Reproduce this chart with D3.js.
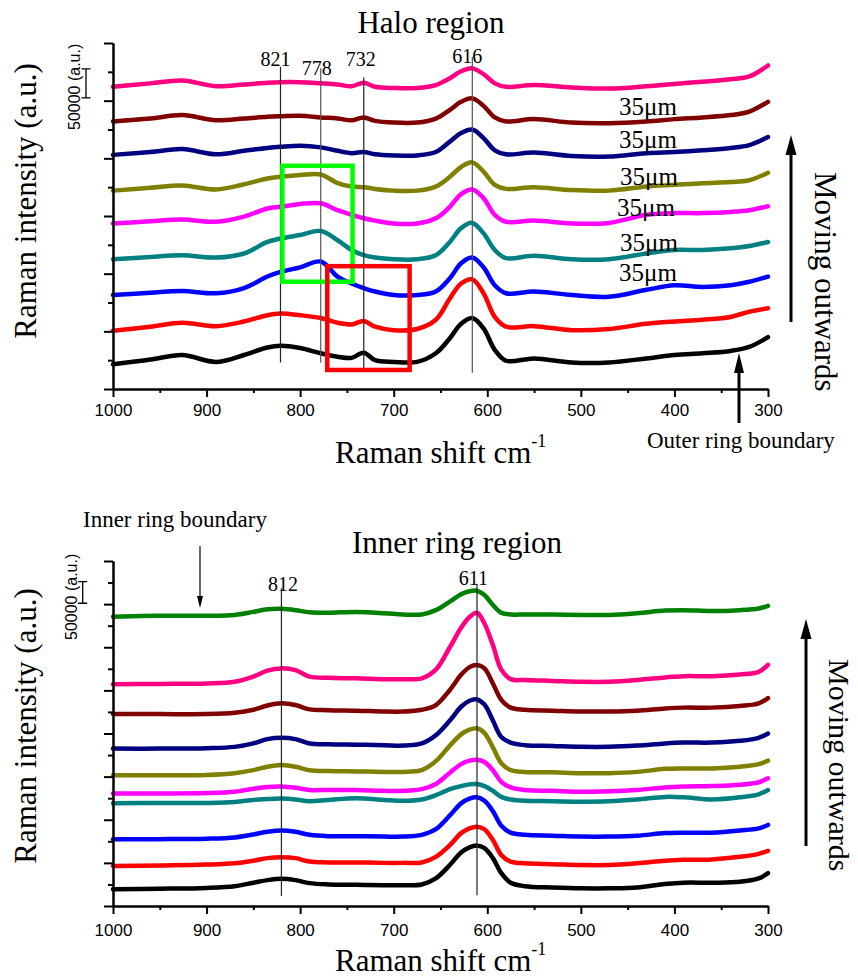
<!DOCTYPE html>
<html>
<head>
<meta charset="utf-8">
<script src="https://cdn.jsdelivr.net/npm/d3@7"></script>
<style>
  body { margin: 0; background: #fff; }
  svg { display: block; }
  .serif { font-family: "Liberation Serif", "Times New Roman", serif; fill: #000; }
  .axis text { font-family: "Liberation Sans", Arial, sans-serif; font-size: 17px; fill: #000; }
  .axis path, .axis line { stroke: #000; stroke-width: 2; }
</style>
</head>
<body>
<div id="chart"></div>
<script>
// ---- data (intensity in units of 1000 a.u., spectra already stacked) ----
var haloShift = [1000, 960, 926, 890, 860, 835, 821, 800, 778, 760, 745, 732, 720, 700, 675, 655, 640, 628, 616, 604, 592, 580, 550, 510, 470, 430, 400, 370, 340, 320, 300];
var haloBlack   = [43, 51, 59, 47, 59, 72, 75, 71, 62, 56, 54, 63, 50, 47, 47, 62, 88, 113, 123, 105, 68, 49, 53, 46, 46, 53, 59, 62, 66, 73, 90];
var haloRed     = [101, 108, 115, 109, 117, 128, 131, 128, 123, 115, 112, 118, 108, 102, 104, 120, 157, 183, 190, 166, 125, 108, 109, 102, 104, 113, 117, 120, 125, 134, 140];
var haloBlue    = [163, 167, 170, 166, 175, 195, 203, 211, 221, 195, 183, 175, 169, 163, 163, 169, 192, 218, 228, 211, 180, 166, 169, 163, 160, 172, 180, 177, 180, 186, 195];
var haloTeal    = [225, 229, 232, 228, 235, 255, 261, 267, 274, 258, 241, 232, 228, 225, 225, 232, 255, 279, 288, 270, 241, 227, 231, 225, 225, 235, 241, 241, 244, 248, 255];
var haloMagenta = [287, 291, 294, 290, 299, 313, 316, 321, 322, 310, 302, 296, 292, 287, 287, 296, 316, 338, 346, 331, 302, 290, 292, 287, 288, 302, 305, 305, 307, 310, 317];
var haloOlive   = [344, 349, 353, 346, 355, 365, 368, 371, 372, 357, 351, 350, 347, 344, 344, 351, 368, 385, 393, 377, 354, 347, 350, 345, 344, 351, 354, 357, 359, 362, 375];
var haloNavy    = [406, 411, 416, 407, 413, 418, 420, 422, 419, 413, 409, 411, 407, 405, 405, 411, 429, 444, 450, 435, 414, 407, 410, 404, 403, 409, 411, 414, 418, 423, 437];
var haloMaroon  = [464, 469, 475, 466, 469, 472, 473, 474, 471, 469, 466, 471, 465, 462, 462, 469, 484, 498, 504, 491, 471, 464, 468, 462, 461, 464, 468, 471, 475, 481, 498];
var haloPink    = [524, 530, 535, 525, 528, 531, 532, 532, 530, 528, 525, 531, 524, 522, 522, 527, 539, 551, 556, 546, 530, 524, 527, 523, 521, 525, 529, 533, 537, 542, 561];

var innerShift = [1000, 950, 900, 870, 850, 835, 820, 805, 790, 770, 740, 710, 690, 670, 655, 640, 628, 619, 611, 603, 594, 585, 575, 560, 530, 500, 470, 440, 410, 390, 360, 330, 310, 300];
var innerBlack   = [39, 40, 42, 46, 54, 60, 63, 60, 53, 50, 49, 48, 48, 50, 64, 95, 124, 136, 140, 134, 111, 76, 54, 46, 43, 41, 41, 43, 51, 54, 54, 56, 64, 76];
var innerRed     = [93, 94, 96, 99, 105, 111, 113, 111, 103, 101, 101, 100, 100, 101, 114, 141, 169, 180, 184, 178, 153, 118, 103, 99, 97, 95, 95, 99, 105, 107, 108, 114, 121, 128];
var innerBlue    = [155, 155, 156, 159, 166, 172, 175, 172, 165, 162, 162, 161, 161, 165, 178, 210, 238, 249, 252, 244, 220, 186, 170, 165, 163, 161, 161, 163, 169, 170, 170, 175, 180, 188];
var innerTeal    = [238, 239, 239, 241, 246, 248, 249, 247, 243, 246, 250, 246, 244, 247, 257, 271, 278, 282, 283, 278, 267, 253, 247, 244, 243, 242, 243, 247, 253, 252, 247, 252, 259, 269];
var innerMagenta = [261, 261, 262, 265, 272, 276, 277, 274, 269, 269, 269, 267, 267, 271, 283, 309, 329, 337, 339, 334, 315, 288, 275, 269, 267, 265, 266, 269, 275, 277, 278, 281, 287, 296];
var innerOlive   = [303, 303, 304, 308, 315, 323, 327, 323, 315, 313, 312, 311, 311, 315, 336, 372, 398, 409, 412, 401, 368, 331, 315, 311, 310, 308, 308, 311, 318, 319, 319, 323, 329, 337];
var innerNavy    = [365, 365, 366, 369, 377, 387, 390, 387, 377, 375, 374, 373, 372, 377, 396, 430, 462, 476, 479, 467, 430, 392, 379, 373, 371, 369, 369, 372, 377, 379, 379, 383, 390, 400];
var innerMaroon  = [445, 445, 445, 448, 455, 465, 470, 466, 456, 454, 453, 451, 451, 455, 466, 501, 536, 554, 559, 551, 516, 478, 460, 455, 453, 451, 451, 453, 458, 460, 460, 464, 470, 482];
var innerPink    = [514, 515, 516, 520, 532, 546, 551, 547, 532, 529, 528, 526, 526, 528, 548, 600, 645, 670, 680, 655, 605, 548, 526, 524, 522, 520, 520, 524, 530, 533, 533, 537, 543, 559];
var innerGreen   = [671, 673, 673, 675, 682, 688, 689, 686, 681, 680, 682, 679, 676, 676, 686, 706, 723, 730, 731, 721, 698, 680, 676, 676, 676, 675, 675, 679, 685, 686, 684, 686, 690, 696];

var xTicks = [1000, 900, 800, 700, 600, 500, 400, 300];
var xMinor = [950, 850, 750, 650, 550, 450, 350];

// peak markers: position on the axis, printed label
var haloPeaks = [[821, "821"], [778, "778"], [732, "732"], [616, "616"]];
var innerPeaks = [[820, "812"], [611, "611"]];
var stepLabels = ["35\u03bcm", "35\u03bcm", "35\u03bcm", "35\u03bcm", "35\u03bcm", "35\u03bcm"];

var colors = {
  black: "#000000", red: "#ff0000", blue: "#0000ff", teal: "#008080", magenta: "#ff00ff",
  olive: "#808000", navy: "#000080", maroon: "#800000", pink: "#ff0080", green: "#008000"
};

var haloSeries = [
  [haloBlack, colors.black], [haloRed, colors.red], [haloBlue, colors.blue], [haloTeal, colors.teal],
  [haloMagenta, colors.magenta], [haloOlive, colors.olive], [haloNavy, colors.navy],
  [haloMaroon, colors.maroon], [haloPink, colors.pink]
];
var innerSeries = [
  [innerBlack, colors.black], [innerRed, colors.red], [innerBlue, colors.blue], [innerTeal, colors.teal],
  [innerMagenta, colors.magenta], [innerOlive, colors.olive], [innerNavy, colors.navy],
  [innerMaroon, colors.maroon], [innerPink, colors.pink], [innerGreen, colors.green]
];

var svg = d3.select("#chart").append("svg")
  .attr("width", 858)
  .attr("height", 977);

function arrow(x, yTail, yTip, headW, headL, lw) {
  var dir = yTip < yTail ? 1 : -1;
  svg.append("line")
    .attr("x1", x).attr("x2", x)
    .attr("y1", yTail).attr("y2", yTip + dir * headL * 0.8)
    .attr("stroke", "#000").attr("stroke-width", lw);
  svg.append("path")
    .attr("d", `M${x},${yTip} L${x - headW / 2},${yTip + dir * headL} L${x + headW / 2},${yTip + dir * headL} Z`)
    .attr("fill", "#000");
}

function drawPanel(p) {
  var x = d3.scaleLinear().domain([1000, 300]).range([113, 768]);
  var y = d3.scaleLinear().domain([0, p.yMax]).range([p.bottom, p.top]);
  var g = svg.append("g");

  // spectra
  var line = d3.line()
    .x(d => x(d[0]))
    .y(d => y(d[1]))
    .curve(d3.curveCatmullRom.alpha(0.5));

  p.series.forEach(function(s) {
    g.append("path")
      .datum(p.shift.map((v, i) => [v, s[0][i]]))
      .attr("d", line)
      .attr("fill", "none")
      .attr("stroke", s[1])
      .attr("stroke-width", 4.5)
      .attr("stroke-linejoin", "round")
      .attr("stroke-linecap", "round");
  });

  // minor ticks first, then the main axes on top
  g.append("g").attr("class", "axis")
    .attr("transform", `translate(0,${p.bottom})`)
    .call(d3.axisBottom(x).tickValues(xMinor).tickSize(4).tickSizeOuter(0).tickFormat(""));
  g.append("g").attr("class", "axis")
    .attr("transform", `translate(0,${p.bottom})`)
    .call(d3.axisBottom(x).tickValues(xTicks).tickSize(8).tickSizeOuter(0).tickPadding(p.pad).tickFormat(d3.format("d")));

  var yMajor = d3.range(0, p.yMax + 1, 100);
  var yMinor = d3.range(50, p.yMax, 100);
  g.append("g").attr("class", "axis")
    .attr("transform", "translate(113,0)")
    .call(d3.axisLeft(y).tickValues(yMinor).tickSize(5).tickSizeOuter(0).tickFormat(""));
  g.append("g").attr("class", "axis")
    .attr("transform", "translate(113,0)")
    .call(d3.axisLeft(y).tickValues(yMajor).tickSize(9).tickSizeOuter(0).tickFormat(""));

  // peak guide lines and labels
  p.peaks.forEach(function(pk, i) {
    var ext = p.peakExt[i];
    g.append("line")
      .attr("x1", x(pk[0])).attr("x2", x(pk[0]))
      .attr("y1", y(ext[0])).attr("y2", y(ext[1]))
      .attr("stroke", ext[3]).attr("stroke-width", 1.2);
    g.append("text").attr("class", "serif")
      .attr("x", x(pk[0]) + ext[4]).attr("y", ext[2])
      .attr("text-anchor", "middle")
      .attr("font-size", 20)
      .text(pk[1]);
  });

  // 50000 a.u. scale bar
  var sb = p.scaleBar;
  g.append("path")
    .attr("d", `M${sb.x - 4.5},${y(sb.v)} H${sb.x + 4.5} M${sb.x},${y(sb.v)} V${y(sb.v + 50)} M${sb.x - 4.5},${y(sb.v + 50)} H${sb.x + 4.5}`)
    .attr("stroke", "#000").attr("stroke-width", 1.3).attr("fill", "none");
  g.append("text")
    .attr("transform", `translate(${sb.tx},${sb.ty}) rotate(-90)`)
    .attr("font-family", "'Liberation Sans', Arial, sans-serif")
    .attr("font-size", 16)
    .text("50000 (a.u.)");

  // titles
  g.append("text").attr("class", "serif")
    .attr("x", p.titleX).attr("y", p.titleY)
    .attr("text-anchor", "middle").attr("font-size", 31)
    .text(p.title);
  g.append("text").attr("class", "serif")
    .attr("transform", `translate(36,${p.yLabelY}) rotate(-90)`)
    .attr("text-anchor", "middle").attr("font-size", 31)
    .text("Raman intensity (a.u.)");
  var xl = g.append("text").attr("class", "serif")
    .attr("x", 335).attr("y", p.xLabelY)
    .attr("font-size", 31);
  xl.append("tspan").text("Raman shift cm");
  xl.append("tspan").attr("font-size", 18).attr("dy", -16).text("-1");
  g.append("text").attr("class", "serif")
    .attr("transform", `translate(${p.movX},${p.movY}) rotate(90)`)
    .attr("font-size", p.movSize)
    .text("Moving outwards");

  return {x: x, y: y, g: g};
}

// ---------- Halo region ----------
var haloPanel = drawPanel({
  shift: haloShift, series: haloSeries, yMax: 600, top: 43, bottom: 389, pad: 7,
  peaks: haloPeaks,
  // [value top, value bottom, label baseline, stroke, label dx]
  peakExt: [[559, 46, 66, "#222", -5], [556, 46, 75, "#555", -4], [540, 36, 66, "#222", -3], [576, 28, 63, "#555", -5]],
  scaleBar: {x: 86, v: 505, tx: 80, ty: 130},
  title: "Halo region", titleX: 431, titleY: 33,
  yLabelY: 201, xLabelY: 463, movX: 815, movY: 172, movSize: 31
});

// highlighted windows
haloPanel.g.append("rect")
  .attr("x", haloPanel.x(819)).attr("y", haloPanel.y(387))
  .attr("width", haloPanel.x(744) - haloPanel.x(819)).attr("height", haloPanel.y(186) - haloPanel.y(387))
  .attr("fill", "none").attr("stroke", "#00ff00").attr("stroke-width", 4.5);
haloPanel.g.append("rect")
  .attr("x", haloPanel.x(771)).attr("y", haloPanel.y(213))
  .attr("width", haloPanel.x(683) - haloPanel.x(771)).attr("height", haloPanel.y(33) - haloPanel.y(213))
  .attr("fill", "none").attr("stroke", "#ff0000").attr("stroke-width", 4.5);

var stepPos = [[619, 115], [619, 148], [620, 185], [617, 216], [620, 251], [619, 281]];
stepLabels.forEach(function(t, i) {
  svg.append("text").attr("class", "serif")
    .attr("x", stepPos[i][0]).attr("y", stepPos[i][1])
    .attr("font-size", 25)
    .text(t);
});

arrow(791, 322, 135, 11, 20, 3);
arrow(739, 423, 353, 10, 20, 3);
svg.append("text").attr("class", "serif")
  .attr("x", 647).attr("y", 448)
  .attr("font-size", 23)
  .text("Outer ring boundary");

// ---------- Inner ring region ----------
var innerPanel = drawPanel({
  shift: innerShift, series: innerSeries, yMax: 800, top: 561, bottom: 906, pad: 10,
  peaks: innerPeaks,
  peakExt: [[737, 23, 591, "#222", 1.5], [747, 25, 585, "#222", -3.5]],
  scaleBar: {x: 82.7, v: 702, tx: 77, ty: 640},
  title: "Inner ring region", titleX: 457, titleY: 553,
  yLabelY: 726, xLabelY: 971, movX: 829, movY: 659, movSize: 30
});

arrow(806, 846, 619, 11, 20, 3);
arrow(200, 546, 608, 6, 12, 1.2);
svg.append("text").attr("class", "serif")
  .attr("x", 83).attr("y", 527)
  .attr("font-size", 23)
  .text("Inner ring boundary");
</script>
</body>
</html>
